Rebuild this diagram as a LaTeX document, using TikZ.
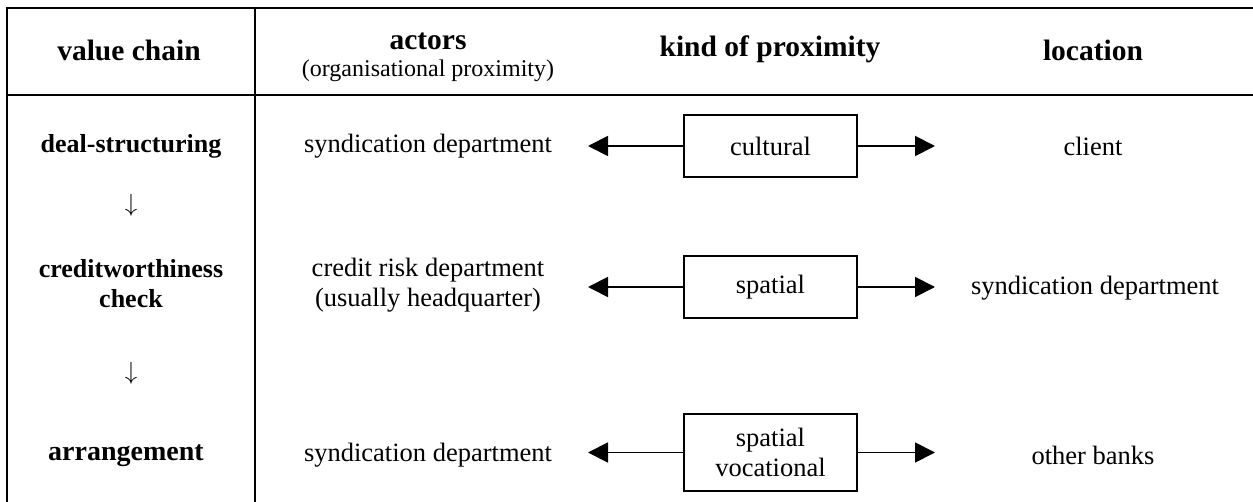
\documentclass[tikz,border=0pt]{standalone}
\usepackage{fontspec}
\setmainfont{Liberation Serif}
\usetikzlibrary{arrows.meta}
\tikzset{
  txt/.style={inner sep=0pt, align=center, font=\fontsize{26.5}{30}\selectfont},
  hdr/.style={inner sep=0pt, align=center, font=\fontsize{29.5}{32}\selectfont\bfseries},
  sub/.style={inner sep=0pt, align=center, font=\fontsize{24}{27}\selectfont},
  chain/.style={inner sep=0pt, align=center, font=\fontsize{26}{30}\selectfont\bfseries},
  kbox/.style={draw, line width=2.2pt, minimum width=173pt, inner sep=0pt, align=center, font=\fontsize{26.5}{30}\selectfont},
  rule/.style={line width=2.8pt},
  conn/.style={line width=1.9pt, -{Triangle[length=20pt,width=20pt]}},
  darr/.style={inner sep=0pt, font=\fontsize{30}{30}\selectfont},
}
\begin{document}
\begin{tikzpicture}[x=1pt,y=-1pt]
\useasboundingbox (0,0) rectangle (1253,502);
% table rules
\draw[rule] (7,8) -- (1253,8);
\draw[rule] (7,95) -- (1253,95);
\draw[rule] (7,6.6) -- (7,502);
\draw[rule] (255,6.6) -- (255,502);
% headers
\node[hdr] (h1) at (129,50) {value chain};
\node[hdr] (h2) at (428,41) {actors};
\node[sub] (h2s) at (428,71) {(organisational proximity)};
\node[hdr] (h3) at (770,49) {kind of proximity};
\node[hdr] (h4) at (1093,50) {location};
% value chain column
\node[chain] (v1) at (131,146) {deal-structuring};
\node[darr] (a1) at (131,205) {$\downarrow$};
\node[chain] (v2) at (131,284) {creditworthiness\\check};
\node[darr] (a2) at (131,373) {$\downarrow$};
\node[chain, font=\fontsize{28}{30}\selectfont\bfseries] (v3) at (126,456) {arrangement};
% actors column
\node[txt] (c1) at (428,146) {syndication department};
\node[txt] (c2) at (428,285) {credit risk department\\(usually headquarter)};
\node[txt] (c3) at (428,455) {syndication department};
% kind of proximity boxes
\node[kbox, minimum height=62pt] (k1) at (770.5,146) {cultural};
\node[kbox, minimum height=62pt] (k2) at (770.5,287) {spatial};
\node[kbox, minimum height=77pt] (k3) at (770.5,452.5) {spatial\\vocational};
% location column
\node[txt] (l1) at (1093,146) {client};
\node[txt] (l2) at (1095,288) {syndication department};
\node[txt] (l3) at (1093,455) {other banks};
% arrow end points
\coordinate (p1l) at (588,146);
\coordinate (p1r) at (935,146);
\coordinate (p2l) at (588,287);
\coordinate (p2r) at (935,287);
\coordinate (p3l) at (588,452.5);
\coordinate (p3r) at (935,452.5);
\draw[conn] (k1.west) -- (p1l);
\draw[conn] (k1.east) -- (p1r);
\draw[conn] (k2.west) -- (p2l);
\draw[conn] (k2.east) -- (p2r);
\draw[conn] (k3.west) -- (p3l);
\draw[conn] (k3.east) -- (p3r);
\end{tikzpicture}
\end{document}
